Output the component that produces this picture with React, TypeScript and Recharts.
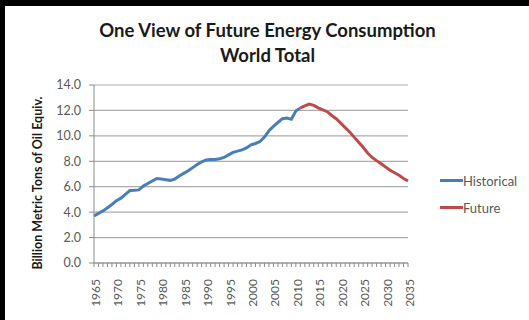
import React from "react";
import { LineChart, Line, XAxis, YAxis, CartesianGrid } from "recharts";

// Billion metric tons of oil equivalent, one value per year
const historicalStart = 1965;
const historical = [
  3.7, 3.9, 4.1, 4.35, 4.6, 4.9, 5.1, 5.4, 5.7, 5.72,
  5.75, 6.05, 6.25, 6.45, 6.65, 6.6, 6.55, 6.5, 6.6, 6.85,
  7.05, 7.25, 7.5, 7.75, 7.95, 8.1, 8.15, 8.15, 8.2, 8.3,
  8.5, 8.7, 8.8, 8.9, 9.05, 9.3, 9.4, 9.55, 9.9, 10.4,
  10.75, 11.05, 11.35, 11.4, 11.3, 11.95, 12.2,
];

const futureStart = 2011;
const future = [
  12.2, 12.35, 12.5, 12.4, 12.2, 12.05, 11.9, 11.6, 11.35, 11.0,
  10.65, 10.3, 9.9, 9.5, 9.1, 8.65, 8.3, 8.05, 7.8, 7.55,
  7.3, 7.1, 6.9, 6.65, 6.45,
];

const firstYear = 1965;
const lastYear = 2035;
const yTicks = [0, 2, 4, 6, 8, 10, 12, 14];

const years: number[] = [];
for (let y = firstYear; y <= lastYear; y++) years.push(y);

const data = years.map((year) => {
  const hi = year - historicalStart;
  const fi = year - futureStart;
  return {
    year,
    historical: hi >= 0 && hi < historical.length ? historical[hi] : null,
    future: fi >= 0 && fi < future.length ? future[fi] : null,
  };
});

const FONT = "Lato, 'Open Sans', sans-serif";
const BLUE = "#4A7EBB";
const RED = "#BE4B48";
const TEXT = "#595959";

const seriesLegend = [
  { name: "Historical", color: BLUE },
  { name: "Future", color: RED },
];

const YearTick = (props: any) => {
  const { x, y, payload } = props;
  if (payload.value % 5 !== 0) return null;
  return (
    <text
      x={0}
      y={0}
      transform={`translate(${x + 6}, ${y + 10}) rotate(-90)`}
      textAnchor="end"
      fill={TEXT}
      fontSize={12}
      fontFamily={FONT}
    >
      {payload.value}
    </text>
  );
};

export default function App() {
  return (
    <div style={{ position: "fixed", left: 0, top: 0, width: 529, height: 320, background: "#fff", overflow: "hidden" }}>
      <div style={{ position: "absolute", left: 0, top: 0, width: 529, height: 6, background: "#000" }} />
      <div style={{ position: "absolute", left: 0, top: 0, width: 5, height: 320, background: "#000" }} />
      <div
        style={{
          position: "absolute",
          left: 0,
          top: 18,
          width: 535,
          textAlign: "center",
          fontFamily: FONT,
          fontWeight: 700,
          fontSize: 18.5,
          lineHeight: "25px",
          color: "#1a1a1a",
        }}
      >
        <div>One View of Future Energy Consumption</div>
        <div>World Total</div>
      </div>
      <div
        style={{
          position: "absolute",
          left: 37,
          top: 183,
          transform: "translate(-50%, -50%) rotate(-90deg)",
          whiteSpace: "nowrap",
          fontFamily: FONT,
          fontWeight: 700,
          fontSize: 12.5,
          color: "#1a1a1a",
        }}
      >
        Billion Metric Tons of Oil Equiv.
      </div>
      <div style={{ position: "absolute", left: 0, top: 0 }}>
        <LineChart width={529} height={320} data={data} margin={{ top: 85, right: 121, bottom: 0, left: 0 }}>
          <CartesianGrid vertical={false} stroke="#ABABAB" strokeWidth={1.2} />
          <XAxis
            dataKey="year"
            type="number"
            domain={[firstYear, lastYear]}
            ticks={years}
            interval={0}
            height={57}
            tickSize={4}
            stroke="#8C8C8C"
            tick={<YearTick />}
          />
          <YAxis
            domain={[0, 14]}
            ticks={yTicks}
            interval={0}
            width={94}
            tickSize={5}
            tickMargin={8}
            stroke="#8C8C8C"
            tickFormatter={(v: number) => v.toFixed(1)}
            tick={{ fill: TEXT, fontSize: 12.5, fontFamily: FONT }}
          />
          <Line
            dataKey="historical"
            name="Historical"
            stroke={BLUE}
            strokeWidth={3}
            dot={false}
            isAnimationActive={false}
          />
          <Line
            dataKey="future"
            name="Future"
            stroke={RED}
            strokeWidth={3}
            dot={false}
            isAnimationActive={false}
          />
        </LineChart>
      </div>
      <div style={{ position: "absolute", left: 440, top: 167, fontFamily: FONT, fontSize: 13, color: TEXT }}>
        {seriesLegend.map((item) => (
          <div key={item.name} style={{ display: "flex", alignItems: "center", height: 27 }}>
            <div style={{ width: 23, height: 3, background: item.color }} />
            <span>{item.name}</span>
          </div>
        ))}
      </div>
    </div>
  );
}
